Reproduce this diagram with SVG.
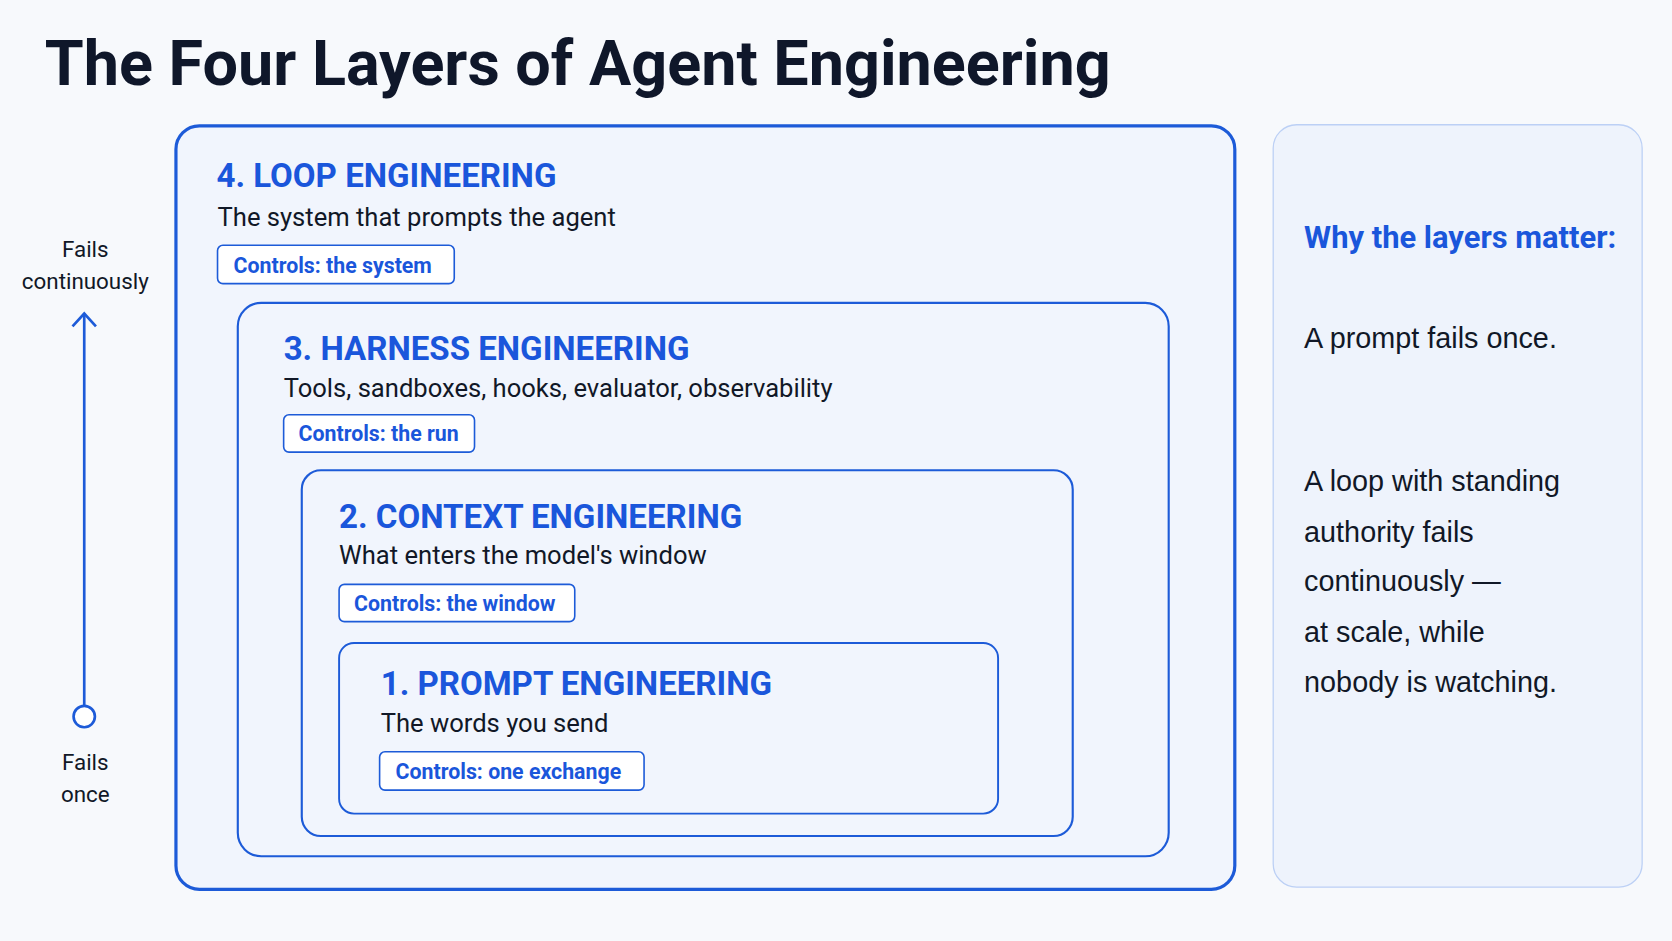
<svg xmlns="http://www.w3.org/2000/svg" width="1672" height="941" viewBox="0 0 1672 941">
<style>
.h{font-family:Roboto,"Liberation Sans",sans-serif;font-weight:700;fill:#1a56db;font-size:31px}
.s{font-family:Roboto,"Liberation Sans",sans-serif;fill:#111827;font-size:24px}
.b{font-family:Roboto,"Liberation Sans",sans-serif;font-weight:700;fill:#1a56db;font-size:20px}
.badge{fill:#ffffff;stroke:#1d5bd8;stroke-width:1.5}
.lay{fill:#f1f5fd;stroke:#1d5bd8}
.side{font-family:Roboto,"Liberation Sans",sans-serif;fill:#111827;font-size:21px;text-anchor:middle}
.p{font-family:"Liberation Sans",Arial,sans-serif;fill:#111827;font-size:27px}
</style>
<rect width="1672" height="941" fill="#f7f9fc"/>
<g transform="scale(1.06633)">
<text x="42" y="80" font-family="Roboto,'Liberation Sans',sans-serif" font-weight="700" font-size="59" fill="#0f172a">The Four Layers of Agent Engineering</text>
<g id="layer4">
<rect class="lay" x="165" y="118" width="993" height="716" rx="22" stroke-width="3"/>
<text class="h" x="203" y="175">4. LOOP ENGINEERING</text>
<text class="s" x="204" y="212">The system that prompts the agent</text>
<rect class="badge" x="204" y="230" width="222" height="36" rx="5"/>
<text class="b" x="219" y="256">Controls: the system</text>
</g>
<g id="layer3">
<rect class="lay" x="223" y="284" width="873" height="519" rx="22" stroke-width="2"/>
<text class="h" x="266" y="338">3. HARNESS ENGINEERING</text>
<text class="s" x="266" y="372" font-size="23">Tools, sandboxes, hooks, evaluator, observability</text>
<rect class="badge" x="266" y="389" width="179" height="35" rx="5"/>
<text class="b" x="280" y="414">Controls: the run</text>
</g>
<g id="layer2">
<rect class="lay" x="283" y="441" width="723" height="343" rx="18" stroke-width="2"/>
<text class="h" x="318" y="495">2. CONTEXT ENGINEERING</text>
<text class="s" x="318" y="529">What enters the model's window</text>
<rect class="badge" x="318" y="548" width="221" height="35" rx="5"/>
<text class="b" x="332" y="573">Controls: the window</text>
</g>
<g id="layer1">
<rect class="lay" x="318" y="603" width="618" height="160" rx="14" stroke-width="1.8"/>
<text class="h" x="357" y="652" font-size="28">1. PROMPT ENGINEERING</text>
<text class="s" x="357" y="686">The words you send</text>
<rect class="badge" x="356" y="705" width="248" height="36" rx="5"/>
<text class="b" x="371" y="731">Controls: one exchange</text>
</g>
<g id="connectors">
<line x1="79" y1="662" x2="79" y2="294" stroke="#1d5bd8" stroke-width="2.5"/>
<polyline points="68,306 79,294 90,306" fill="none" stroke="#1d5bd8" stroke-width="2.5"/>
<circle cx="79" cy="672" r="10" fill="#ffffff" stroke="#1d5bd8" stroke-width="2.5"/>
</g>
<g id="axis-labels">
<text class="side" x="80" y="241">Fails</text>
<text class="side" x="80" y="271">continuously</text>
<text class="side" x="80" y="722">Fails</text>
<text class="side" x="80" y="752">once</text>
</g>
<g id="why">
<rect x="1194" y="117" width="346" height="715" rx="22" fill="#eef3fc" stroke="#bcd0f5" stroke-width="1.2"/>
<text x="1223" y="233" font-family="Roboto,'Liberation Sans',sans-serif" font-weight="700" font-size="29" fill="#1a56db">Why the layers matter:</text>
<text class="p" x="1223" y="326">A prompt fails once.</text>
<text class="p" x="1223" y="460">A loop with standing</text>
<text class="p" x="1223" y="508">authority fails</text>
<text class="p" x="1223" y="554">continuously —</text>
<text class="p" x="1223" y="602">at scale, while</text>
<text class="p" x="1223" y="649">nobody is watching.</text>
</g>
</g>
</svg>
